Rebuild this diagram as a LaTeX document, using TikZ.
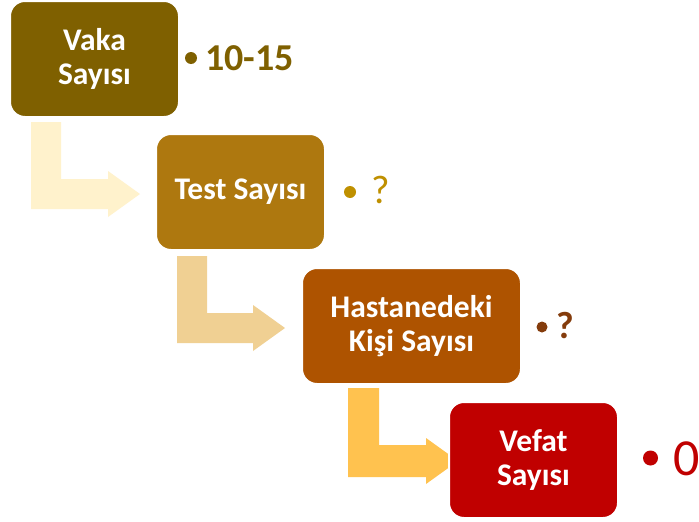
\documentclass[tikz,border=0pt]{standalone}
\usepackage{fontspec}
\setmainfont{Carlito}
\usetikzlibrary{calc,backgrounds}
\definecolor{vakac}{HTML}{7F6000}
\definecolor{testc}{HTML}{AE780F}
\definecolor{hastc}{HTML}{AE5300}
\definecolor{vefc}{HTML}{C00000}
\definecolor{testq}{HTML}{BF9000}
\definecolor{hastq}{HTML}{843C0C}
\definecolor{arrA}{HTML}{FFF2CC}
\definecolor{arrB}{HTML}{F0D093}
\definecolor{arrC}{HTML}{FFC24F}
\begin{document}
\begin{tikzpicture}[x=1pt, y=-1pt,
    box/.style={rounded corners=15pt, draw=white, line width=2pt, text=white, align=center,
        font=\fontsize{31.5}{34}\selectfont\bfseries, minimum width=169pt, minimum height=116pt},
    dot/.style={circle, inner sep=0pt},
    val/.style={anchor=base west, inner sep=0pt}]
\useasboundingbox (0,0) rectangle (699,522);
\node[box, fill=vakac] (vaka) at (94.5,59) {Vaka\\Sayısı};
\node[box, fill=testc] (test) at (240.5,192) {Test Sayısı};
\node[box, fill=hastc, minimum width=219pt] (hastane) at (411.5,326) {Hastanedeki\\Kişi Sayısı};
\node[box, fill=vefc] (vefat) at (533.5,460) {Vefat\\Sayısı};
\node[dot, fill=vakac, minimum size=12pt] (d1) at (191,58) {};
\node[val, text=vakac, font=\fontsize{38}{42}\selectfont\bfseries] (v1) at (205,70) {10-15};
\node[dot, fill=testq, minimum size=12pt] (d2) at (350,192) {};
\node[val, text=testq, font=\fontsize{40}{44}\selectfont] (v2) at (371,203) {?};
\node[dot, fill=hastq, minimum size=11pt] (d3) at (542,327) {};
\node[val, text=hastq, font=\fontsize{38}{42}\selectfont\bfseries] (v3) at (556,338) {?};
\node[dot, fill=vefc, minimum size=15pt] (d4) at (650.5,458) {};
\node[val, text=vefc, font=\fontsize{52}{56}\selectfont] (v4) at (673,475) {0};
\coordinate (a1) at ($(vaka.south)+(-48.5,4)$);
\coordinate (t1) at ($(test.west)+(-15,2)$);
\coordinate (a2) at ($(test.south)+(-48.5,5)$);
\coordinate (t2) at ($(hastane.west)+(-16,2)$);
\coordinate (a3) at ($(hastane.south)+(-48,3)$);
\coordinate (t3) at ($(vefat.west)+(10,1)$);
\begin{scope}[on background layer]
\fill[white] (0,0) rectangle (699,522);
\fill[arrA] ($(a1)+(-15,0)$) |- ($(t1)+(-32,15)$) -- ++(0,8) -- (t1) -- ($(t1)+(-32,-23)$) -- ++(0,8) -| ($(a1)+(15,0)$) -- cycle;
\fill[arrB] ($(a2)+(-15,0)$) |- ($(t2)+(-32,15)$) -- ++(0,8) -- (t2) -- ($(t2)+(-32,-23)$) -- ++(0,8) -| ($(a2)+(15,0)$) -- cycle;
\fill[arrC] ($(a3)+(-15.5,0)$) |- ($(t3)+(-32,16)$) -- ++(0,7) -- (t3) -- ($(t3)+(-32,-23)$) -- ++(0,7) -| ($(a3)+(15.5,0)$) -- cycle;
\end{scope}
\end{tikzpicture}
\end{document}
